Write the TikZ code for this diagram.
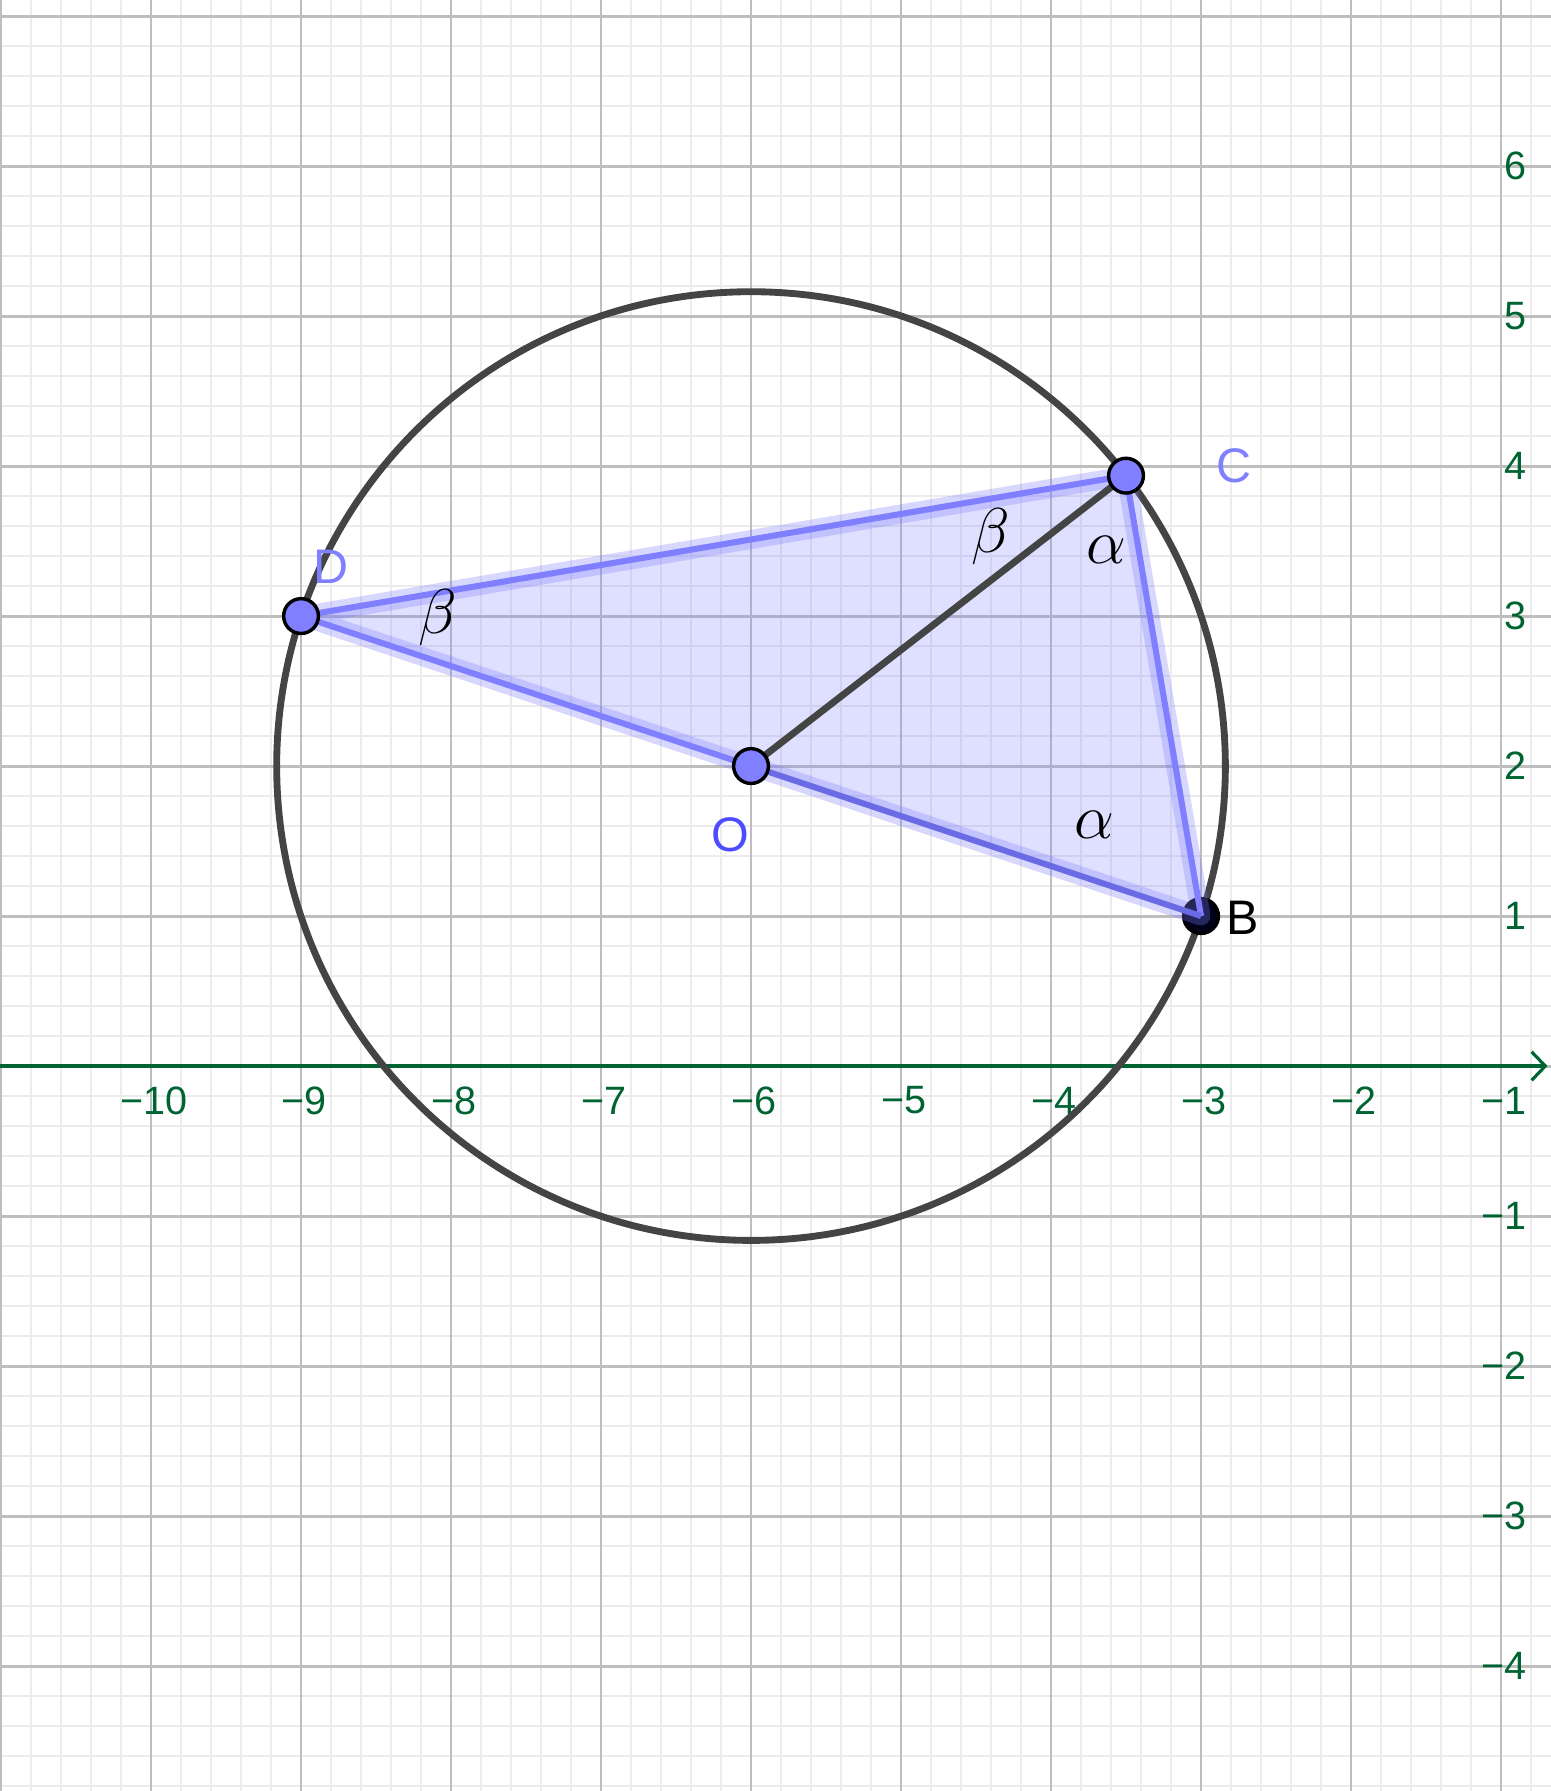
\documentclass[tikz,border=0pt]{standalone}
\usepackage{fontspec}
\newfontfamily\ggbsans{Liberation Sans}
\usetikzlibrary{arrows.meta}
\definecolor{gminor}{RGB}{236,236,236}
\definecolor{gmajor}{RGB}{190,190,190}
\definecolor{axgreen}{RGB}{0,100,50}
\definecolor{ptblue}{RGB}{127,127,255}
\definecolor{edgedark}{RGB}{106,106,228}
\definecolor{odark}{RGB}{77,77,255}
\definecolor{circgray}{RGB}{68,68,68}

\begin{document}
\begin{tikzpicture}[
    minorgrid/.style={draw=gminor, line width=0.45pt},
    majorgrid/.style={draw=gmajor, line width=0.55pt},
    axisline/.style={draw=axgreen, line width=0.6pt},
    xlab/.style={text=axgreen, font=\ggbsans\fontsize{7.5}{9}\selectfont, inner sep=0pt},
    ylab/.style={xlab, anchor=east},
    ptmark/.style={circle, draw=black, fill=ptblue, line width=0.65pt, minimum size=6.6pt, inner sep=0pt},
    ptlabel/.style={font=\ggbsans\fontsize{9.2}{11}\selectfont, inner sep=0pt},
    halo/.style={draw=ptblue, opacity=0.3, line width=3.6pt, line join=round},
    edge/.style={draw=ptblue, line width=1.15pt},
    anglabel/.style={font=\large, inner sep=0pt}]
  \useasboundingbox (-11.007, -4.833) rectangle (-0.667, 7.107);
  \clip (-11.007, -4.833) rectangle (-0.667, 7.107);
  \draw[minorgrid] (-11.2, -5) grid[step=0.2] (-0.4, 7.4);
  \draw[majorgrid] (-12, -5) grid[step=1] (0, 8);

  \coordinate (O) at (-6, 2);
  \coordinate (B) at (-3, 1);
  \coordinate (C) at (-3.5, 3.936);
  \coordinate (D) at (-9, 3);
  \coordinate (xl) at (-11.1, 0);
  \coordinate (xr) at (-0.69, 0);

  \fill[ptblue, fill opacity=0.25] (D) -- (C) -- (B) -- cycle;
  \draw[axisline, -{Straight Barb[length=2.6pt, width=5.4pt]}] (xl) -- (xr);

  \node[xlab] (x10) at (-9.98, -0.23) {−10};
  \node[xlab] (x9) at (-8.98, -0.23) {−9};
  \node[xlab] (x8) at (-7.98, -0.23) {−8};
  \node[xlab] (x7) at (-6.98, -0.23) {−7};
  \node[xlab] (x6) at (-5.98, -0.23) {−6};
  \node[xlab] (x5) at (-4.98, -0.23) {−5};
  \node[xlab] (x4) at (-3.98, -0.23) {−4};
  \node[xlab] (x3) at (-2.98, -0.23) {−3};
  \node[xlab] (x2) at (-1.98, -0.23) {−2};
  \node[xlab] (x1) at (-0.98, -0.23) {−1};
  \node[ylab] (y6) at (-0.82, 6) {6};
  \node[ylab] (y5) at (-0.82, 5) {5};
  \node[ylab] (y4) at (-0.82, 4) {4};
  \node[ylab] (y3) at (-0.82, 3) {3};
  \node[ylab] (y2) at (-0.82, 2) {2};
  \node[ylab] (y1) at (-0.82, 1) {1};
  \node[ylab] (ym1) at (-0.82, -1) {−1};
  \node[ylab] (ym2) at (-0.82, -2) {−2};
  \node[ylab] (ym3) at (-0.82, -3) {−3};
  \node[ylab] (ym4) at (-0.82, -4) {−4};

  \draw[circgray, line width=1.3pt] (O) circle ({sqrt(10)});
  \node[ptmark, fill=black!90!blue] (pB) at (B) {};
  \draw[halo] (D) -- (C) -- (B) -- cycle;
  \draw[edge] (D) -- (C) -- (B);
  \draw[edge] (D) -- (O);
  \draw[edge, draw=edgedark] (O) -- (B);
  \draw[circgray, line width=1.3pt] (O) -- (C);

  \node[ptmark] (pD) at (D) {};
  \node[ptmark] (pC) at (C) {};
  \node[ptmark] (pO) at (O) {};

  \node[ptlabel, text=ptblue] (lD) at (-8.8, 3.33) {D};
  \node[ptlabel, text=ptblue] (lC) at (-2.78, 4.0) {C};
  \node[ptlabel, text=odark] (lO) at (-6.14, 1.54) {O};
  \node[ptlabel] (lB) at (-2.72, 0.985) {B};

  \node[anglabel] (b1) at (-8.09, 2.99) {$\beta$};
  \node[anglabel] (b2) at (-4.4, 3.53) {$\beta$};
  \node[anglabel] (a1) at (-3.63, 3.44) {$\alpha$};
  \node[anglabel] (a2) at (-3.71, 1.61) {$\alpha$};
\end{tikzpicture}
\end{document}
